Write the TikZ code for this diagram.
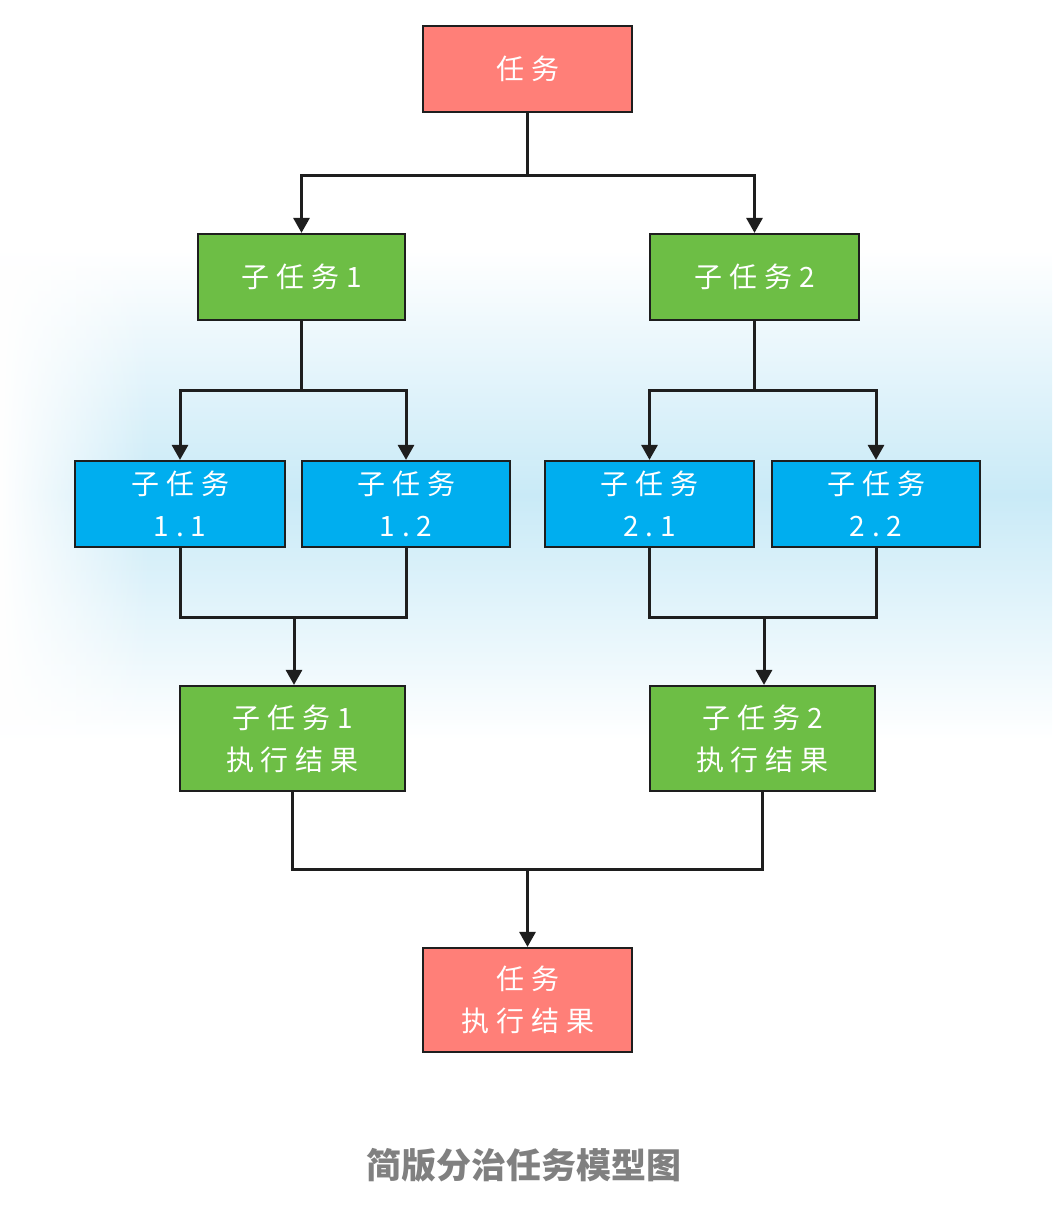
\documentclass[tikz,border=0pt]{standalone}
\usepackage{fontspec}
\newfontfamily\cjk{Noto Sans CJK SC}
\newfontfamily\cjkbox[LetterSpace=25]{Noto Sans CJK SC}
\usetikzlibrary{arrows.meta,fadings}
\definecolor{taskred}{HTML}{FF7F78}
\definecolor{subgreen}{HTML}{6DBE45}
\definecolor{leafblue}{HTML}{00AEEF}
\definecolor{glow}{HTML}{C9EAF7}
\definecolor{linec}{HTML}{1E1E1E}
\definecolor{capgray}{HTML}{808080}
\tikzset{
  box/.style={draw=linec, line width=2.2pt, inner sep=0pt, text=white,
    font=\cjkbox\fontsize{28}{42}\selectfont, align=center},
  redbox/.style={box, fill=taskred},
  greenbox/.style={box, fill=subgreen},
  bluebox/.style={box, fill=leafblue},
  conn/.style={draw=linec, line width=3pt},
  arr/.style={conn, -{Triangle[width=16pt,length=15pt]}},
}
\begin{document}
\begin{tikzpicture}[x=1pt,y=-1pt]
\useasboundingbox (0,0) rectangle (1052,1228);
\fill[white] (0,0) rectangle (1052,1228);
% background glow
\shade[top color=white, bottom color=white, middle color=glow] (0,250) rectangle (1052,740);
\fill[white, path fading=east] (0,250) rectangle (150,740);

% nodes
\node[redbox, minimum width=209pt, minimum height=86pt] (t) at (527.5,69) {任务};
\node[greenbox, minimum width=207pt, minimum height=86pt] (s1) at (301.5,277) {子任务1};
\node[greenbox, minimum width=209pt, minimum height=86pt] (s2) at (754.5,277) {子任务2};
\node[bluebox, minimum width=210pt, minimum height=86pt] (s11) at (180,504) {子任务\\1.1};
\node[bluebox, minimum width=208pt, minimum height=86pt] (s12) at (406,504) {子任务\\1.2};
\node[bluebox, minimum width=209pt, minimum height=86pt] (s21) at (649.5,504) {子任务\\2.1};
\node[bluebox, minimum width=208pt, minimum height=86pt] (s22) at (876,504) {子任务\\2.2};
\node[greenbox, minimum width=225pt, minimum height=105pt] (r1) at (292.5,738.5) {子任务1\\执行结果};
\node[greenbox, minimum width=225pt, minimum height=105pt] (r2) at (762.5,738.5) {子任务2\\执行结果};
\node[redbox, minimum width=209pt, minimum height=104pt] (rt) at (527.5,1000) {任务\\执行结果};

% junctions
\coordinate (j0) at (527.5,175);
\coordinate (j1) at (301.5,390);
\coordinate (j2) at (754.5,390);
\coordinate (m1) at (294,617);
\coordinate (m2) at (764,617);
\coordinate (mt) at (527.5,869);

% split connectors
\draw[conn] (t.south) -- (j0);
\draw[arr] (j0) -| (s1.north);
\draw[arr] (j0) -| (s2.north);
\draw[conn] (s1.south) -- (j1);
\draw[arr] (j1) -| (s11.north);
\draw[arr] (j1) -| (s12.north);
\draw[conn] (s2.south) -- (j2);
\draw[arr] (j2) -| (s21.north);
\draw[arr] (j2) -| (s22.north);

% merge connectors
\draw[conn] (s11.south) |- (m1) -| (s12.south);
\draw[arr] (m1) -- (m1 |- r1.north);
\draw[conn] (s21.south) |- (m2) -| (s22.south);
\draw[arr] (m2) -- (m2 |- r2.north);
\draw[conn] (r1.south) |- (mt) -| (r2.south);
\draw[arr] (mt) -- (rt.north);

% caption
\node[text=capgray, font=\cjk\bfseries\fontsize{35}{40}\selectfont] (cap) at (524,1165) {简版分治任务模型图};
\end{tikzpicture}
\end{document}
